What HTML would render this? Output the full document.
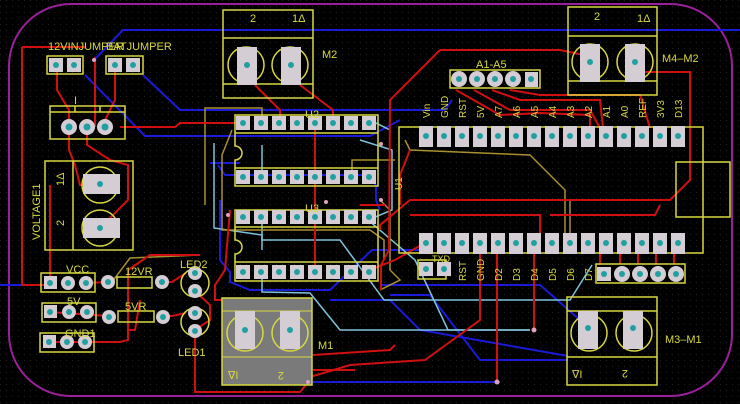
<!DOCTYPE html>
<html><head><meta charset="utf-8"><style>
html,body{margin:0;padding:0;background:#000;}
svg{display:block}
text{font-family:"Liberation Sans",sans-serif;fill:#d8d840}
</style></head><body>
<svg width="740" height="404" viewBox="0 0 740 404" xmlns="http://www.w3.org/2000/svg">
<defs>
<pattern id="g" width="6" height="6" patternUnits="userSpaceOnUse"><rect x="0" y="0" width="1" height="1" fill="#222"/></pattern>
</defs>
<rect width="740" height="404" fill="#000"/>
<rect width="740" height="404" fill="url(#g)"/>
<rect x="9" y="4" width="723" height="392" rx="62" fill="none" stroke="#9a209a" stroke-width="2"/>

<g stroke="#1a1ad8" stroke-width="2" fill="none">
<path d="M94 60 L123 30 L740 30"/>
<path d="M85 75 L145 136 L370 136 L400 120"/>
<path d="M143 75 L180 110 L400 110 L440 110"/>
<path d="M400 110 L445 110 L452 100"/>
<path d="M210 163 L240 163 M218 165 L225 175 L370 175 L376 186 L376 200 L380 210"/>
<path d="M220 200 L220 260 L230 272 L230 282 L250 290 L330 290 L372 250 L430 250"/>
<path d="M0 285 L40 285"/>
<path d="M380 285 L540 285 L580 320"/>
<path d="M330 300 L390 300 L420 330 L568 356"/>
<path d="M310 382 L500 382"/>
<path d="M390 295 L430 295 L480 360 L568 360"/>
</g>
<g stroke="#7ec4dc" stroke-width="1.5" fill="none">
<path d="M214 143 L214 228 L262 235 L262 250"/>
<path d="M262 145 L262 182"/>
<path d="M262 210 L262 240 L340 240 L384 300 L570 300 L592 265"/>
<path d="M360 140 L392 150 L392 210 L368 220 L415 260 L448 330 L530 330"/>
<path d="M262 272 L262 292 L310 293 L340 330 L530 330"/>
<path d="M370 120 L390 130"/>
</g>
<g stroke="#a89030" stroke-width="1.5" fill="none">
<path d="M205 205 L205 108 L262 108 L262 122"/>
<path d="M232 130 L222 155 L222 230 L370 230 L384 240 L384 260"/>
<path d="M405 140 L410 150 L530 155 L565 190 L565 235"/>
<path d="M380 200 L390 210 L390 270 L400 280 L380 290"/>
<path d="M352 180 L352 160 L395 160"/>
<path d="M570 200 L570 245"/>
<path d="M200 255 L130 258 L112 282"/>
</g>
<g stroke="#d01010" stroke-width="2" fill="none">
<path d="M22 47 L22 285 L50 285"/>
<path d="M22 47 L85 47"/>
<path d="M57 65 L57 90 L69 110 L69 127"/>
<path d="M95 57 L95 127"/>
<path d="M115 65 L115 100 L105 120"/>
<path d="M120 127 L175 127 L180 123 L243 123"/>
<path d="M69 127 L69 150 L75 165 L80 185 L100 185"/>
<path d="M87 127 L87 145 L110 160 L128 165 L128 200 L100 228"/>
<path d="M50 185 L50 283"/>
<path d="M255 85 L280 110 L280 123"/>
<path d="M300 85 L333 110 L333 123"/>
<path d="M315 123 L315 182 L315 217 L315 272"/>
<path d="M410 150 L400 175 L400 205"/>
<path d="M440 50 L560 50 L584 55"/>
<path d="M440 50 L390 100 L389 250 L381 265 L381 290"/>
<path d="M456 90 L500 115 L540 113 L590 115 L590 128"/>
<path d="M474 90 L510 110 L590 110 L600 128"/>
<path d="M492 90 L520 100 L600 100 L603 128"/>
<path d="M510 90 L540 95 L640 95 L650 128"/>
<path d="M640 72 L650 72 L690 72 L690 180 L670 200 L410 200 L380 225 L380 230"/>
<path d="M410 215 L415 215 L540 215 L540 236"/>
<path d="M550 215 L655 215 L660 205"/>
<path d="M497 252 L497 380"/>
<path d="M534 252 L534 330"/>
<path d="M480 252 L480 320 L425 360 L350 365 L300 380 L228 380"/>
<path d="M430 240 L395 260 L370 270 L370 278"/>
<path d="M600 252 L600 265"/>
<path d="M620 252 L620 264 M638 252 L638 264 M656 252 L656 264 M674 252 L674 264"/>
<path d="M108 282 L85 283 M50 312 L108 316"/>
<path d="M162 282 L172 282 L186 273"/>
<path d="M163 316 L172 316 L186 313"/>
<path d="M195 291 L210 305 L210 320 L195 330"/>
<path d="M195 330 L195 392 L300 392 L310 380"/>
<path d="M50 342 L120 342 L128 340 L128 270 L150 255 L200 255"/>
<path d="M127 330 L135 330 L140 300"/>
<path d="M230 210 L225 270 L215 285 L215 300 L222 300"/>
<path d="M313 355 L390 350 L395 345"/>
<path d="M313 370 L355 370"/>
<path d="M360 205 L385 205"/>
</g>

<g stroke="#d8d840" stroke-width="1.5" fill="none">
<rect x="223" y="10" width="90" height="88"/>
<line x1="223" y1="38" x2="313" y2="38"/><line x1="223" y1="84" x2="313" y2="84"/>
<circle cx="246" cy="65" r="18"/><circle cx="290" cy="65" r="18"/>
<rect x="568" y="7" width="89" height="88"/>
<line x1="568" y1="36" x2="657" y2="36"/><line x1="568" y1="81" x2="657" y2="81"/>
<circle cx="590" cy="62" r="18"/><circle cx="635" cy="62" r="18"/>
<rect x="567" y="297" width="90" height="88"/>
<line x1="567" y1="311" x2="657" y2="311"/><line x1="567" y1="357" x2="657" y2="357"/>
<circle cx="589" cy="333" r="18"/><circle cx="634" cy="333" r="18"/>
<rect x="45" y="161" width="88" height="89"/>
<line x1="73" y1="161" x2="73" y2="250"/>
<circle cx="100" cy="185" r="18"/><circle cx="100" cy="228" r="18"/>
<rect x="50" y="106" width="75" height="33"/>
<line x1="50" y1="112" x2="125" y2="112"/><line x1="75" y1="106" x2="75" y2="112"/><line x1="100" y1="106" x2="100" y2="112"/>
<rect x="47" y="56" width="36" height="18"/><rect x="106" y="56" width="37" height="18"/>
<path d="M235 115 H378 V186 H235 V160 A7 7 0 0 0 235 146 Z"/>
<line x1="235" y1="133" x2="378" y2="133"/><line x1="235" y1="168" x2="378" y2="168"/>
<path d="M235 210 H378 V281 H235 V254 A7 7 0 0 0 235 240 Z"/>
<line x1="235" y1="227" x2="378" y2="227"/><line x1="235" y1="262" x2="378" y2="262"/>
<rect x="399" y="127" width="304" height="126"/>
<rect x="676" y="162" width="54" height="55"/>
<rect x="450" y="70" width="90" height="18"/>
<rect x="418" y="260" width="28" height="19"/>
<rect x="596" y="264" width="89" height="19"/>
<rect x="41" y="273" width="54" height="19"/>
<rect x="42" y="303" width="54" height="19"/>
<rect x="40" y="333" width="54" height="19"/>
<rect x="117" y="277" width="35" height="11"/>
<rect x="118" y="311" width="36" height="11"/>
<circle cx="195" cy="283" r="14"/>
<circle cx="195" cy="322" r="14"/>
</g>
<rect x="222" y="298" width="90" height="87" fill="#7a7a7a" stroke="#d8d840" stroke-width="1.5"/>
<line x1="222" y1="311" x2="312" y2="311" stroke="#d8d840" stroke-width="1"/>
<line x1="222" y1="357" x2="312" y2="357" stroke="#d8d840" stroke-width="1"/>
<circle cx="245" cy="333" r="18" fill="none" stroke="#d8d840" stroke-width="1.5"/>
<circle cx="290" cy="333" r="18" fill="none" stroke="#d8d840" stroke-width="1.5"/>

<g fill="#d4cdd4">
<rect x="237" y="47" width="20" height="38"/><rect x="281" y="47" width="20" height="38"/>
<rect x="580" y="44" width="20" height="38"/><rect x="625" y="44" width="20" height="38"/>
<rect x="578" y="311" width="20" height="38"/><rect x="623" y="311" width="20" height="38"/>
<rect x="235" y="311" width="20" height="38"/><rect x="280" y="311" width="20" height="38"/>
<rect x="83" y="174" width="37" height="20"/><rect x="83" y="218" width="37" height="20"/>
</g>
<g fill="#20a0a0">
<circle cx="247" cy="65" r="3"/><circle cx="291" cy="65" r="3"/>
<circle cx="590" cy="62" r="3"/><circle cx="635" cy="62" r="3"/>
<circle cx="588" cy="328" r="3"/><circle cx="633" cy="328" r="3"/>
<circle cx="245" cy="330" r="3"/><circle cx="290" cy="330" r="3"/>
<circle cx="100" cy="184" r="3"/><circle cx="100" cy="228" r="3"/>
</g>

<g fill="#d4cdd4">
<rect x="236" y="116" width="14" height="14"/><rect x="254" y="116" width="14" height="14"/><rect x="272" y="116" width="14" height="14"/><rect x="290" y="116" width="14" height="14"/><rect x="308" y="116" width="14" height="14"/><rect x="326" y="116" width="14" height="14"/><rect x="344" y="116" width="14" height="14"/><rect x="362" y="116" width="14" height="14"/>
<rect x="236" y="170" width="14" height="14"/><rect x="254" y="170" width="14" height="14"/><rect x="272" y="170" width="14" height="14"/><rect x="290" y="170" width="14" height="14"/><rect x="308" y="170" width="14" height="14"/><rect x="326" y="170" width="14" height="14"/><rect x="344" y="170" width="14" height="14"/><rect x="362" y="170" width="14" height="14"/>
<rect x="236" y="210" width="14" height="14"/><rect x="254" y="210" width="14" height="14"/><rect x="272" y="210" width="14" height="14"/><rect x="290" y="210" width="14" height="14"/><rect x="308" y="210" width="14" height="14"/><rect x="326" y="210" width="14" height="14"/><rect x="344" y="210" width="14" height="14"/><rect x="362" y="210" width="14" height="14"/>
<rect x="236" y="265" width="14" height="14"/><rect x="254" y="265" width="14" height="14"/><rect x="272" y="265" width="14" height="14"/><rect x="290" y="265" width="14" height="14"/><rect x="308" y="265" width="14" height="14"/><rect x="326" y="265" width="14" height="14"/><rect x="344" y="265" width="14" height="14"/><rect x="362" y="265" width="14" height="14"/>
</g>
<g fill="#20a0a0">
<circle cx="243" cy="123" r="3"/><circle cx="261" cy="123" r="3"/><circle cx="279" cy="123" r="3"/><circle cx="297" cy="123" r="3"/><circle cx="315" cy="123" r="3"/><circle cx="333" cy="123" r="3"/><circle cx="351" cy="123" r="3"/><circle cx="369" cy="123" r="3"/>
<circle cx="243" cy="177" r="3"/><circle cx="261" cy="177" r="3"/><circle cx="279" cy="177" r="3"/><circle cx="297" cy="177" r="3"/><circle cx="315" cy="177" r="3"/><circle cx="333" cy="177" r="3"/><circle cx="351" cy="177" r="3"/><circle cx="369" cy="177" r="3"/>
<circle cx="243" cy="217" r="3"/><circle cx="261" cy="217" r="3"/><circle cx="279" cy="217" r="3"/><circle cx="297" cy="217" r="3"/><circle cx="315" cy="217" r="3"/><circle cx="333" cy="217" r="3"/><circle cx="351" cy="217" r="3"/><circle cx="369" cy="217" r="3"/>
<circle cx="243" cy="272" r="3"/><circle cx="261" cy="272" r="3"/><circle cx="279" cy="272" r="3"/><circle cx="297" cy="272" r="3"/><circle cx="315" cy="272" r="3"/><circle cx="333" cy="272" r="3"/><circle cx="351" cy="272" r="3"/><circle cx="369" cy="272" r="3"/>
</g>
<g fill="#d4cdd4">
<rect x="419" y="126" width="14" height="21"/><rect x="437" y="126" width="14" height="21"/><rect x="455" y="126" width="14" height="21"/><rect x="473" y="126" width="14" height="21"/><rect x="491" y="126" width="14" height="21"/><rect x="509" y="126" width="14" height="21"/><rect x="527" y="126" width="14" height="21"/><rect x="545" y="126" width="14" height="21"/><rect x="563" y="126" width="14" height="21"/><rect x="581" y="126" width="14" height="21"/><rect x="599" y="126" width="14" height="21"/><rect x="617" y="126" width="14" height="21"/><rect x="635" y="126" width="14" height="21"/><rect x="653" y="126" width="14" height="21"/><rect x="671" y="126" width="14" height="21"/>
<rect x="419" y="233" width="14" height="21"/><rect x="437" y="233" width="14" height="21"/><rect x="455" y="233" width="14" height="21"/><rect x="473" y="233" width="14" height="21"/><rect x="491" y="233" width="14" height="21"/><rect x="509" y="233" width="14" height="21"/><rect x="527" y="233" width="14" height="21"/><rect x="545" y="233" width="14" height="21"/><rect x="563" y="233" width="14" height="21"/><rect x="581" y="233" width="14" height="21"/><rect x="599" y="233" width="14" height="21"/><rect x="617" y="233" width="14" height="21"/><rect x="635" y="233" width="14" height="21"/><rect x="653" y="233" width="14" height="21"/><rect x="671" y="233" width="14" height="21"/>
<rect x="49" y="58" width="14" height="14"/><rect x="67" y="58" width="14" height="14"/>
<rect x="108" y="58" width="14" height="14"/><rect x="126" y="58" width="14" height="14"/>
<rect x="419" y="262" width="14" height="14"/><rect x="437" y="262" width="14" height="14"/>
<rect x="597" y="267" width="14" height="14"/>
<rect x="44" y="276" width="13" height="13"/><rect x="44" y="305" width="13" height="13"/><rect x="43" y="335" width="13" height="13"/>
<rect x="525" y="72" width="13" height="15"/>
</g>
<g fill="#20a0a0">
<circle cx="426" cy="136" r="3"/><circle cx="444" cy="136" r="3"/><circle cx="462" cy="136" r="3"/><circle cx="480" cy="136" r="3"/><circle cx="498" cy="136" r="3"/><circle cx="516" cy="136" r="3"/><circle cx="534" cy="136" r="3"/><circle cx="552" cy="136" r="3"/><circle cx="570" cy="136" r="3"/><circle cx="588" cy="136" r="3"/><circle cx="606" cy="136" r="3"/><circle cx="624" cy="136" r="3"/><circle cx="642" cy="136" r="3"/><circle cx="660" cy="136" r="3"/><circle cx="678" cy="136" r="3"/>
<circle cx="426" cy="243" r="3"/><circle cx="444" cy="243" r="3"/><circle cx="462" cy="243" r="3"/><circle cx="480" cy="243" r="3"/><circle cx="498" cy="243" r="3"/><circle cx="516" cy="243" r="3"/><circle cx="534" cy="243" r="3"/><circle cx="552" cy="243" r="3"/><circle cx="570" cy="243" r="3"/><circle cx="588" cy="243" r="3"/><circle cx="606" cy="243" r="3"/><circle cx="624" cy="243" r="3"/><circle cx="642" cy="243" r="3"/><circle cx="660" cy="243" r="3"/><circle cx="678" cy="243" r="3"/>
<circle cx="56" cy="65" r="3"/><circle cx="74" cy="65" r="3"/><circle cx="115" cy="65" r="3"/><circle cx="133" cy="65" r="3"/>
<circle cx="426" cy="269" r="3"/><circle cx="444" cy="269" r="3"/><circle cx="604" cy="274" r="3"/>
<circle cx="50" cy="283" r="3"/><circle cx="50" cy="312" r="3"/><circle cx="49" cy="342" r="3"/><circle cx="531" cy="79" r="3"/>
</g>
<g fill="#d4cdd4">
<circle cx="459" cy="79" r="8"/><circle cx="477" cy="79" r="8"/><circle cx="495" cy="79" r="8"/><circle cx="513" cy="79" r="8"/>
<circle cx="69" cy="127" r="8"/><circle cx="87" cy="127" r="8"/><circle cx="105" cy="127" r="8"/>
<circle cx="622" cy="274" r="8"/><circle cx="640" cy="274" r="8"/><circle cx="658" cy="274" r="8"/><circle cx="676" cy="274" r="8"/>
<circle cx="68" cy="283" r="7"/><circle cx="86" cy="283" r="7"/><circle cx="69" cy="312" r="7"/><circle cx="87" cy="312" r="7"/><circle cx="67" cy="342" r="7"/><circle cx="85" cy="342" r="7"/>
<circle cx="108" cy="282" r="7"/><circle cx="162" cy="282" r="7"/><circle cx="109" cy="317" r="7"/><circle cx="163" cy="317" r="7"/>
<circle cx="195" cy="273" r="7"/><circle cx="195" cy="291" r="7"/><circle cx="195" cy="313" r="7"/><circle cx="195" cy="331" r="7"/>
</g>
<g fill="#20a0a0">
<circle cx="459" cy="79" r="3"/><circle cx="477" cy="79" r="3"/><circle cx="495" cy="79" r="3"/><circle cx="513" cy="79" r="3"/>
<circle cx="69" cy="127" r="3.5"/><circle cx="87" cy="127" r="3.5"/><circle cx="105" cy="127" r="3.5"/>
<circle cx="622" cy="274" r="3"/><circle cx="640" cy="274" r="3"/><circle cx="658" cy="274" r="3"/><circle cx="676" cy="274" r="3"/>
<circle cx="68" cy="283" r="3"/><circle cx="86" cy="283" r="3"/><circle cx="69" cy="312" r="3"/><circle cx="87" cy="312" r="3"/><circle cx="67" cy="342" r="3"/><circle cx="85" cy="342" r="3"/>
<circle cx="108" cy="282" r="3"/><circle cx="162" cy="282" r="3"/><circle cx="109" cy="317" r="3"/><circle cx="163" cy="317" r="3"/>
<circle cx="195" cy="273" r="3"/><circle cx="195" cy="291" r="3"/><circle cx="195" cy="313" r="3"/><circle cx="195" cy="331" r="3"/>
</g>

<g font-size="11">
<text x="48" y="50">12VINJUMPER</text>
<text x="106" y="50">BATJUMPER</text>
<text x="74" y="104">I</text>
<text x="250" y="22">2</text><text x="292" y="22">1Δ</text>
<text x="322" y="58">M2</text>
<text x="594" y="20">2</text><text x="637" y="22">1Δ</text>
<text x="662" y="62">M4–M2</text>
<text x="476" y="68">A1-A5</text>
<text x="305" y="118">U2</text>
<text x="305" y="212">U3</text>
<text x="318" y="349">M1</text>
<text x="665" y="343">M3–M1</text>
<text x="572" y="378">∇I</text>
<text x="620" y="378" transform="rotate(180 624 374)">2</text>
<text x="228" y="379">∇I</text>
<text x="276" y="380" transform="rotate(180 280 376)">2</text>
<text x="66" y="273">VCC</text>
<text x="67" y="305">5V</text>
<text x="65" y="337">GND1</text>
<text x="125" y="275">12VR</text>
<text x="125" y="310">5VR</text>
<text x="180" y="268">LED2</text>
<text x="178" y="356">LED1</text>
<text x="52" y="186" transform="rotate(-90 58 180)">1Δ</text>
<text x="54" y="228" transform="rotate(-90 58 222)">2</text>
<text x="40" y="240" transform="rotate(-90 40 240)">VOLTAGE1</text>
</g>
<g font-size="10">
<text transform="translate(430,118) rotate(-90)">Vin</text>
<text transform="translate(448,118) rotate(-90)">GND</text>
<text transform="translate(466,118) rotate(-90)">RST</text>
<text transform="translate(484,118) rotate(-90)">5V</text>
<text transform="translate(502,118) rotate(-90)">A7</text>
<text transform="translate(520,118) rotate(-90)">A6</text>
<text transform="translate(538,118) rotate(-90)">A5</text>
<text transform="translate(556,118) rotate(-90)">A4</text>
<text transform="translate(574,118) rotate(-90)">A3</text>
<text transform="translate(592,118) rotate(-90)">A2</text>
<text transform="translate(610,118) rotate(-90)">A1</text>
<text transform="translate(628,118) rotate(-90)">A0</text>
<text transform="translate(646,118) rotate(-90)">REF</text>
<text transform="translate(664,118) rotate(-90)">3V3</text>
<text transform="translate(682,118) rotate(-90)">D13</text>
<text transform="translate(466,281) rotate(-90)">RST</text>
<text transform="translate(484,281) rotate(-90)">GND</text>
<text transform="translate(502,281) rotate(-90)">D2</text>
<text transform="translate(520,281) rotate(-90)">D3</text>
<text transform="translate(538,281) rotate(-90)">D4</text>
<text transform="translate(556,281) rotate(-90)">D5</text>
<text transform="translate(574,281) rotate(-90)">D6</text>
<text transform="translate(592,281) rotate(-90)">D7</text>
<text transform="translate(402,190) rotate(-90)">U1</text>
<text x="432" y="262" font-size="9">TXD</text>
</g>
<g fill="#e0a0c0">
<circle cx="94" cy="60" r="2"/><circle cx="497" cy="382" r="2.5"/><circle cx="534" cy="330" r="2.5"/>
<circle cx="381" cy="200" r="2"/><circle cx="228" cy="215" r="2"/><circle cx="326" cy="202" r="2"/><circle cx="381" cy="144" r="2"/><circle cx="308" cy="382" r="2"/>
</g>
</svg>
</body></html>
